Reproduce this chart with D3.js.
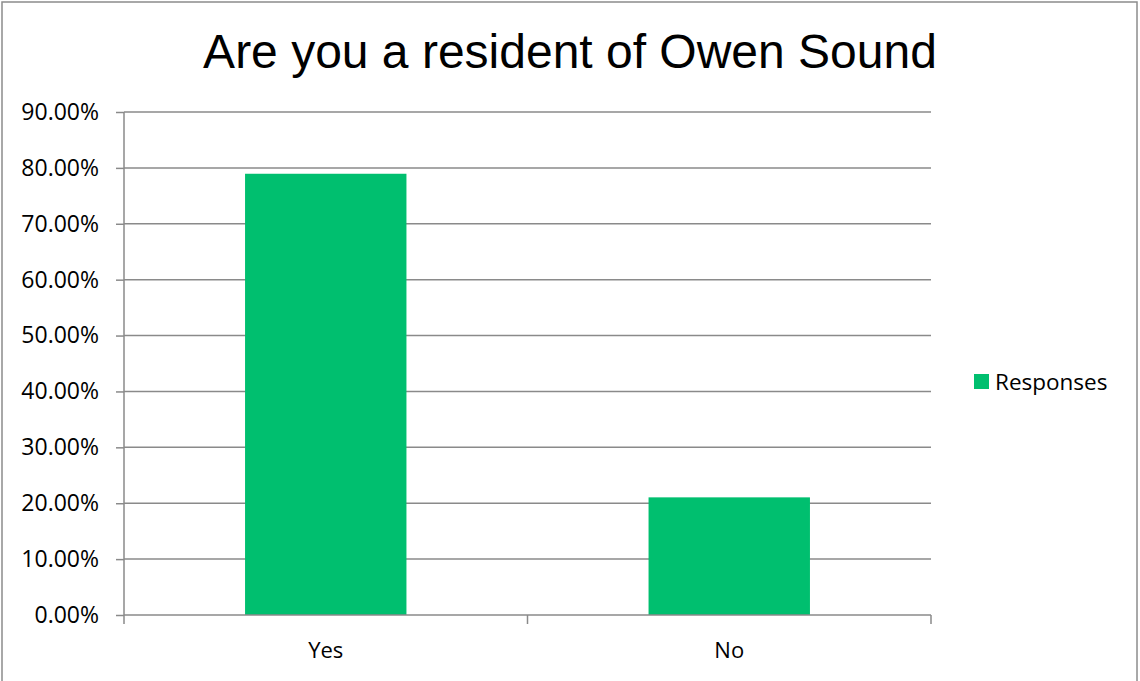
<!DOCTYPE html>
<html><head><meta charset="utf-8">
<script src="https://cdn.jsdelivr.net/npm/d3@7"></script>
<style>body{margin:0;background:#fff}svg{display:block}</style>
</head><body>
<svg id="c" width="1140" height="681"></svg>
<script>
const categories = ["Yes", "No"];
const values = [0.7895, 0.2105];
const seriesName = "Responses";
const yTicks = [0, 0.1, 0.2, 0.3, 0.4, 0.5, 0.6, 0.7, 0.8, 0.9];
const title = "Are you a resident of Owen Sound";

const svg = d3.select("#c");
svg.append("rect").attr("x", 2).attr("y", 2).attr("width", 1135).attr("height", 682)
  .attr("fill", "#fff").attr("stroke", "#8c8c8c").attr("stroke-width", 1.5);

const m = {left: 124, right: 931, top: 112, bottom: 615};
const x = d3.scaleBand().domain(categories).range([m.left, m.right]).paddingInner(0.6).paddingOuter(0.3);
const y = d3.scaleLinear().domain([0, 0.9]).range([m.bottom, m.top]);
const font = "'Open Sans', 'Liberation Sans', sans-serif";
const grey = "#8a8a8a";

svg.append("text").attr("x", 570).attr("y", 68).attr("text-anchor", "middle")
  .attr("font-family", "'Liberation Sans', Arial, sans-serif").attr("font-size", 48).attr("fill", "#000").text(title);

// gridlines
svg.append("g").selectAll("line").data(yTicks.filter(d => d > 0)).join("line")
  .attr("x1", m.left).attr("x2", m.right).attr("y1", d => y(d)).attr("y2", d => y(d))
  .attr("stroke", grey).attr("stroke-width", 1.5);

// bars
svg.append("g").selectAll("rect").data(categories).join("rect")
  .attr("x", d => x(d)).attr("width", x.bandwidth())
  .attr("y", (d, i) => y(values[i])).attr("height", (d, i) => y(0) - y(values[i]))
  .attr("fill", "#00bf6f");

// y axis
const yAxis = d3.axisLeft(y).tickValues(yTicks).tickFormat(d3.format(".2%")).tickSize(8).tickPadding(17);
const ga = svg.append("g").attr("transform", `translate(${m.left},0)`).call(yAxis);
ga.select(".domain").attr("stroke", grey).attr("stroke-width", 1.5).attr("d", `M0,${m.top}V${m.bottom}`);
ga.selectAll(".tick line").attr("stroke", grey).attr("stroke-width", 1.5);
ga.selectAll("text").attr("font-family", font).attr("font-size", 23).attr("fill", "#000");

// x axis
const xb = d3.scaleLinear().domain([0, categories.length]).range([m.left, m.right]);
const gx = svg.append("g").attr("transform", `translate(0,${m.bottom})`);
gx.append("line").attr("x1", m.left).attr("x2", m.right).attr("stroke", grey).attr("stroke-width", 1.5);
gx.selectAll(".tk").data(d3.range(categories.length + 1)).join("line").attr("class", "tk")
  .attr("x1", d => xb(d)).attr("x2", d => xb(d)).attr("y1", 0).attr("y2", 9)
  .attr("stroke", grey).attr("stroke-width", 1.5);
gx.selectAll("text").data(categories).join("text")
  .attr("x", d => x(d) + x.bandwidth() / 2).attr("y", 43).attr("text-anchor", "middle")
  .attr("font-family", font).attr("font-size", 22).attr("fill", "#000").text(d => d);

// legend
const lg = svg.append("g");
lg.append("rect").attr("x", 974).attr("y", 374).attr("width", 15).attr("height", 15).attr("fill", "#00bf6f");
lg.append("text").attr("x", 995).attr("y", 390).attr("font-family", font).attr("font-size", 22.5).attr("fill", "#000").text(seriesName);
</script>
</body></html>
